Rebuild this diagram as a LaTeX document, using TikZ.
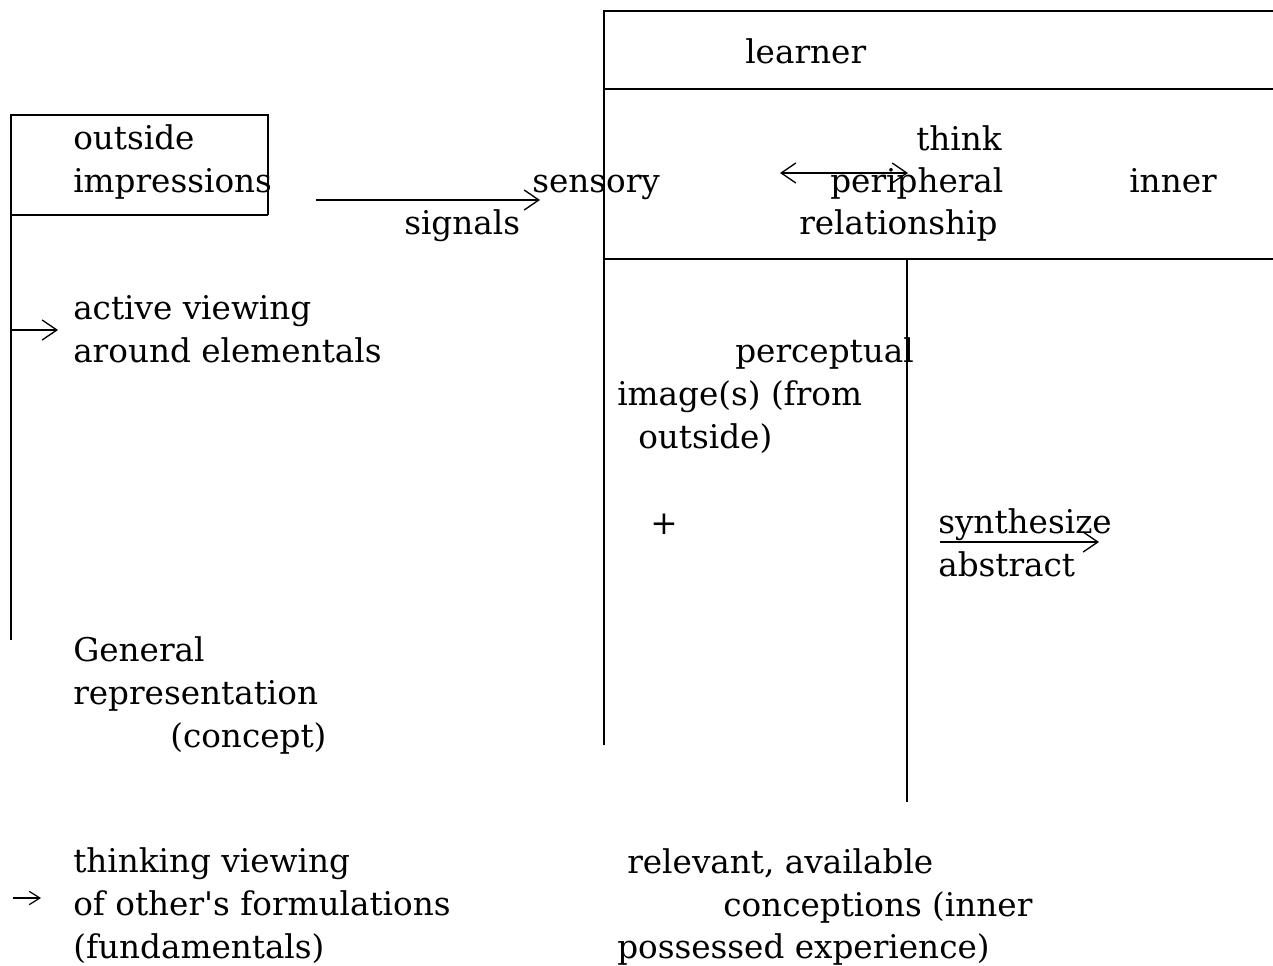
\documentclass[tikz,border=0pt]{standalone}
\usepackage{fontspec}
\setmainfont{DejaVu Serif}
\usetikzlibrary{arrows.meta}
\tikzset{
  txt/.style={anchor=base west, inner sep=0pt, align=left, font=\fontsize{24.5}{32.25}\selectfont},
  rule/.style={line width=1.1pt},
  arr/.style={line width=1pt, ->},
}

\begin{document}
\begin{tikzpicture}[x=0.75pt, y=-0.75pt, >={Straight Barb[length=11pt,width=15pt]}]
\useasboundingbox (0,0) rectangle (1273,965);

% left frame
\draw[rule] (11,640) -- (11,115) -- (268,115) -- (268,215);
\draw[rule] (11,215) -- (268,215);

% learner frame
\draw[rule] (604,745) -- (604,11) -- (1273,11);
\draw[rule] (604,89) -- (1273,89);
\draw[rule] (604,259) -- (1273,259);
\draw[rule] (907,259) -- (907,802);

% texts left (multi-line nodes sit on their last baseline)
\node[txt] (outimp) at (73,192) {outside\\impressions};
\node[txt] (signals) at (404,234) {signals};
\node[txt] (active) at (73,362) {active viewing\\around elementals};
\node[txt] (general) at (73,704) {General\\representation};
\node[txt] (concept) at (170,747) {(concept)};
\node[txt] (thinking) at (73,958) {thinking viewing\\of other\textquotesingle s formulations\\(fundamentals)};

% texts learner
\node[txt] (learner) at (745,63) {learner};
\node[txt] (sensory) at (532,192) {sensory};
\node[txt] (think) at (916,150) {think};
\node[txt] (periph) at (830,192) {peripheral};
\node[txt] (relation) at (799,234) {relationship};
\node[txt] (inner) at (1129,192) {inner};
\node[txt] (percept) at (735,362) {perceptual};
\node[txt] (image) at (617,405) {image(s) (from};
\node[txt] (fromout) at (638,448) {outside)};
\node[txt] (plus) at (650,534) {+};
\node[txt] (synth) at (938,576) {synthesize\\abstract};
\node[txt] (relevant) at (627,873) {relevant, available};
\node[txt] (concep) at (723,916) {conceptions (inner};
\node[txt] (possess) at (617,958) {possessed experience)};

% arrows
\coordinate (sig-a) at (316,200);
\coordinate (sig-b) at (540,200);
\draw[arr] (sig-a) -- (sig-b);
\coordinate (act-a) at (11,330);
\coordinate (act-b) at (58,330);
\draw[arr] (act-a) -- (act-b);
\coordinate (rel-a) at (780,173);
\coordinate (rel-b) at (908,173);
\draw[arr, <->] (rel-a) -- (rel-b);
\coordinate (syn-a) at (940,542);
\coordinate (syn-b) at (1099,542);
\draw[arr] (syn-a) -- (syn-b);
\coordinate (thk-a) at (13,898);
\coordinate (thk-b) at (41,898);
\draw[line width=0.9pt, -{Straight Barb[length=8pt,width=10pt]}] (thk-a) -- (thk-b);
\end{tikzpicture}
\end{document}
